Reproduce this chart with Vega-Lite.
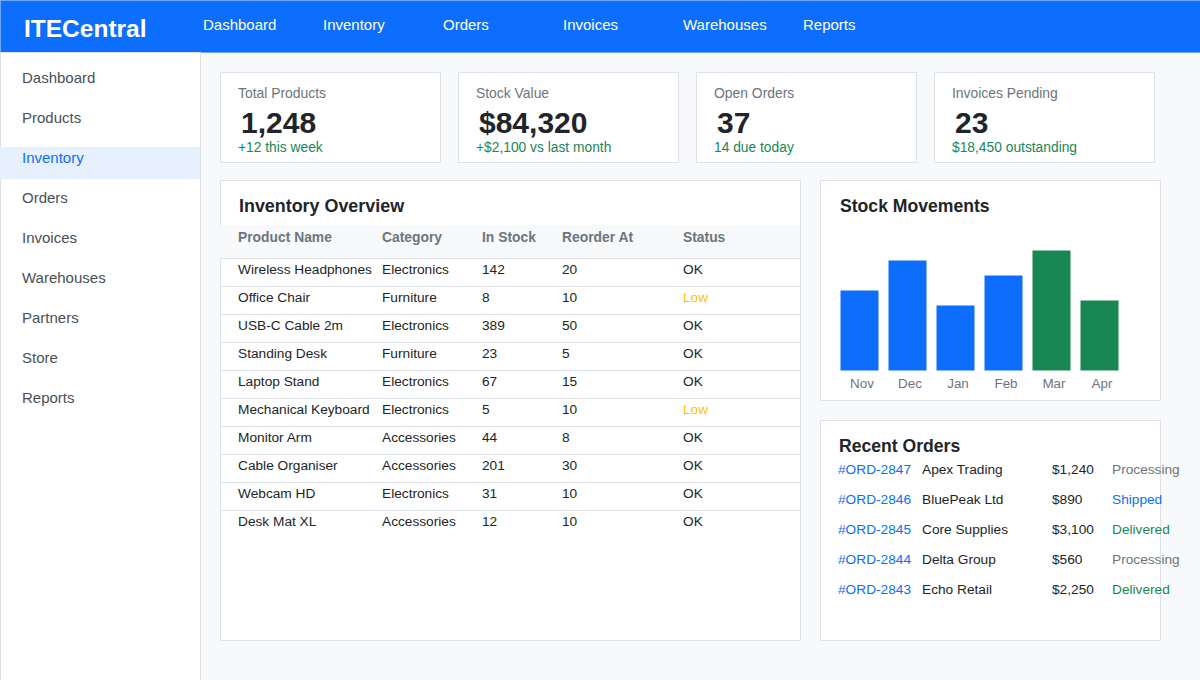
{
  "$schema": "https://vega.github.io/schema/vega-lite/v6.json",
  "background": "#f8f9fa",
  "padding": {"left": -1, "top": -1, "right": 0, "bottom": 0},
  "bounds": "flush",
  "spacing": 0,
  "config": {
    "font": "Liberation Sans",
    "text": {"font": "Liberation Sans", "align": "left", "baseline": "middle"},
    "title": {"font": "Liberation Sans", "anchor": "start", "frame": "group", "fontWeight": "bold", "color": "#212529", "fontSize": 17.6, "baseline": "alphabetic"}
  },
  "datasets": {
    "nav": [
      {"pos": 0, "label": "Dashboard"},
      {"pos": 1, "label": "Inventory"},
      {"pos": 2, "label": "Orders"},
      {"pos": 3, "label": "Invoices"},
      {"pos": 4, "label": "Warehouses"},
      {"pos": 5, "label": "Reports"}
    ],
    "sidebar": [
      {"order": 0, "item": "Dashboard"},
      {"order": 1, "item": "Products"},
      {"order": 2, "item": "Inventory"},
      {"order": 3, "item": "Orders"},
      {"order": 4, "item": "Invoices"},
      {"order": 5, "item": "Warehouses"},
      {"order": 6, "item": "Partners"},
      {"order": 7, "item": "Store"},
      {"order": 8, "item": "Reports"}
    ],
    "totalProducts": [{"label": "Total Products", "value": "1,248", "note": "+12 this week"}],
    "stockValue": [{"label": "Stock Value", "value": "$84,320", "note": "+$2,100 vs last month"}],
    "openOrders": [{"label": "Open Orders", "value": "37", "note": "14 due today"}],
    "invoicesPending": [{"label": "Invoices Pending", "value": "23", "note": "$18,450 outstanding"}],
    "inventoryHeader": [
      {"row": 0, "product": "Product Name", "category": "Category", "stock": "In Stock", "reorder": "Reorder At", "status": "Status"}
    ],
    "inventory": [
      {"row": 1, "product": "Wireless Headphones", "category": "Electronics", "stock": 142, "reorder": 20, "status": "OK"},
      {"row": 2, "product": "Office Chair", "category": "Furniture", "stock": 8, "reorder": 10, "status": "Low"},
      {"row": 3, "product": "USB-C Cable 2m", "category": "Electronics", "stock": 389, "reorder": 50, "status": "OK"},
      {"row": 4, "product": "Standing Desk", "category": "Furniture", "stock": 23, "reorder": 5, "status": "OK"},
      {"row": 5, "product": "Laptop Stand", "category": "Electronics", "stock": 67, "reorder": 15, "status": "OK"},
      {"row": 6, "product": "Mechanical Keyboard", "category": "Electronics", "stock": 5, "reorder": 10, "status": "Low"},
      {"row": 7, "product": "Monitor Arm", "category": "Accessories", "stock": 44, "reorder": 8, "status": "OK"},
      {"row": 8, "product": "Cable Organiser", "category": "Accessories", "stock": 201, "reorder": 30, "status": "OK"},
      {"row": 9, "product": "Webcam HD", "category": "Electronics", "stock": 31, "reorder": 10, "status": "OK"},
      {"row": 10, "product": "Desk Mat XL", "category": "Accessories", "stock": 12, "reorder": 10, "status": "OK"}
    ],
    "movements": [
      {"month": "Nov", "units": 80},
      {"month": "Dec", "units": 110},
      {"month": "Jan", "units": 65},
      {"month": "Feb", "units": 95},
      {"month": "Mar", "units": 120},
      {"month": "Apr", "units": 70}
    ],
    "orders": [
      {"row": 1, "id": "#ORD-2847", "customer": "Apex Trading", "amount": "$1,240", "status": "Processing"},
      {"row": 2, "id": "#ORD-2846", "customer": "BluePeak Ltd", "amount": "$890", "status": "Shipped"},
      {"row": 3, "id": "#ORD-2845", "customer": "Core Supplies", "amount": "$3,100", "status": "Delivered"},
      {"row": 4, "id": "#ORD-2844", "customer": "Delta Group", "amount": "$560", "status": "Processing"},
      {"row": 5, "id": "#ORD-2843", "customer": "Echo Retail", "amount": "$2,250", "status": "Delivered"}
    ]
  },
  "vconcat": [
    {
      "width": 1200,
      "height": 52,
      "view": {"fill": "#0d6efd", "stroke": "#6ea8fe"},
      "title": {"text": "ITECentral", "color": "#ffffff", "fontSize": 24.5, "dx": 24, "offset": -42},
      "data": {"name": "nav"},
      "mark": {"type": "text", "fontSize": 15, "color": "#ffffff", "dy": -1},
      "encoding": {
        "x": {"field": "pos", "type": "quantitative", "axis": null,
          "scale": {"domain": [0, 4, 5], "range": [203, 683, 803], "zero": false, "nice": false}},
        "text": {"field": "label"}
      }
    },
    {
      "hconcat": [
        {
          "width": 200,
          "height": 628,
          "view": {"fill": "#ffffff", "stroke": "#dee2e6"},
          "data": {"name": "sidebar"},
          "encoding": {
            "y": {"field": "order", "type": "quantitative", "axis": null,
              "scale": {"domain": [0, 8], "range": [26, 346], "zero": false, "nice": false}}
          },
          "layer": [
            {
              "transform": [{"filter": "datum.item === 'Inventory'"}],
              "mark": {"type": "rect", "height": 32, "yOffset": 5, "color": "#e7f0ff"}
            },
            {
              "mark": {"type": "text", "fontSize": 15},
              "encoding": {
                "x": {"datum": 0, "type": "quantitative", "axis": null,
                  "scale": {"domain": [0, 1], "range": [22, 200], "zero": false, "nice": false}},
                "text": {"field": "item"},
                "color": {"condition": {"test": "datum.item === 'Inventory'", "value": "#0d6efd"}, "value": "#495057"}
              }
            }
          ]
        },
        {
          "vconcat": [
            {
              "width": 1,
              "height": 3,
              "view": {"stroke": null},
              "data": {"values": []},
              "mark": "text"
            },
            {
              "hconcat": [
                {
                  "width": 220, "height": 90,
                  "view": {"fill": "#ffffff", "stroke": "#dee2e6"},
                  "data": {"name": "totalProducts"},
                  "layer": [
                    {"mark": {"type": "text", "fontSize": 13.9, "color": "#6c757d"},
                      "encoding": {
                        "x": {"datum": 0, "type": "quantitative", "axis": null, "scale": {"domain": [0, 1], "range": [18, 21], "zero": false, "nice": false}},
                        "y": {"datum": 0, "type": "quantitative", "axis": null, "scale": {"domain": [0, 1, 2], "range": [22, 52, 76], "zero": false, "nice": false}},
                        "text": {"field": "label"}}},
                    {"mark": {"type": "text", "fontSize": 30, "fontWeight": "bold", "color": "#212529"},
                      "encoding": {"x": {"datum": 1, "type": "quantitative"}, "y": {"datum": 1, "type": "quantitative"}, "text": {"field": "value"}}},
                    {"mark": {"type": "text", "fontSize": 13.8, "color": "#198754"},
                      "encoding": {"x": {"datum": 0, "type": "quantitative"}, "y": {"datum": 2, "type": "quantitative"}, "text": {"field": "note"}}}
                  ]
                },
                {
                  "width": 220, "height": 90,
                  "view": {"fill": "#ffffff", "stroke": "#dee2e6"},
                  "data": {"name": "stockValue"},
                  "layer": [
                    {"mark": {"type": "text", "fontSize": 13.9, "color": "#6c757d"},
                      "encoding": {
                        "x": {"datum": 0, "type": "quantitative", "axis": null, "scale": {"domain": [0, 1], "range": [18, 21], "zero": false, "nice": false}},
                        "y": {"datum": 0, "type": "quantitative", "axis": null, "scale": {"domain": [0, 1, 2], "range": [22, 52, 76], "zero": false, "nice": false}},
                        "text": {"field": "label"}}},
                    {"mark": {"type": "text", "fontSize": 30, "fontWeight": "bold", "color": "#212529"},
                      "encoding": {"x": {"datum": 1, "type": "quantitative"}, "y": {"datum": 1, "type": "quantitative"}, "text": {"field": "value"}}},
                    {"mark": {"type": "text", "fontSize": 13.8, "color": "#198754"},
                      "encoding": {"x": {"datum": 0, "type": "quantitative"}, "y": {"datum": 2, "type": "quantitative"}, "text": {"field": "note"}}}
                  ]
                },
                {
                  "width": 220, "height": 90,
                  "view": {"fill": "#ffffff", "stroke": "#dee2e6"},
                  "data": {"name": "openOrders"},
                  "layer": [
                    {"mark": {"type": "text", "fontSize": 13.9, "color": "#6c757d"},
                      "encoding": {
                        "x": {"datum": 0, "type": "quantitative", "axis": null, "scale": {"domain": [0, 1], "range": [18, 21], "zero": false, "nice": false}},
                        "y": {"datum": 0, "type": "quantitative", "axis": null, "scale": {"domain": [0, 1, 2], "range": [22, 52, 76], "zero": false, "nice": false}},
                        "text": {"field": "label"}}},
                    {"mark": {"type": "text", "fontSize": 30, "fontWeight": "bold", "color": "#212529"},
                      "encoding": {"x": {"datum": 1, "type": "quantitative"}, "y": {"datum": 1, "type": "quantitative"}, "text": {"field": "value"}}},
                    {"mark": {"type": "text", "fontSize": 13.8, "color": "#198754"},
                      "encoding": {"x": {"datum": 0, "type": "quantitative"}, "y": {"datum": 2, "type": "quantitative"}, "text": {"field": "note"}}}
                  ]
                },
                {
                  "width": 220, "height": 90,
                  "view": {"fill": "#ffffff", "stroke": "#dee2e6"},
                  "data": {"name": "invoicesPending"},
                  "layer": [
                    {"mark": {"type": "text", "fontSize": 13.9, "color": "#6c757d"},
                      "encoding": {
                        "x": {"datum": 0, "type": "quantitative", "axis": null, "scale": {"domain": [0, 1], "range": [18, 21], "zero": false, "nice": false}},
                        "y": {"datum": 0, "type": "quantitative", "axis": null, "scale": {"domain": [0, 1, 2], "range": [22, 52, 76], "zero": false, "nice": false}},
                        "text": {"field": "label"}}},
                    {"mark": {"type": "text", "fontSize": 30, "fontWeight": "bold", "color": "#212529"},
                      "encoding": {"x": {"datum": 1, "type": "quantitative"}, "y": {"datum": 1, "type": "quantitative"}, "text": {"field": "value"}}},
                    {"mark": {"type": "text", "fontSize": 13.8, "color": "#198754"},
                      "encoding": {"x": {"datum": 0, "type": "quantitative"}, "y": {"datum": 2, "type": "quantitative"}, "text": {"field": "note"}}}
                  ]
                }
              ],
              "spacing": 18,
              "bounds": "flush"
            },
            {
              "hconcat": [
                {
                  "width": 580,
                  "height": 460,
                  "view": {"fill": "#ffffff", "stroke": "#dee2e6"},
                  "title": {"text": "Inventory Overview", "fontSize": 17.9, "dx": 19, "offset": -36},
                  "encoding": {
                    "y": {"field": "row", "type": "quantitative", "axis": null,
                      "scale": {"domain": [0, 1, 10], "range": [58, 89.5, 341.5], "zero": false, "nice": false}}
                  },
                  "layer": [
                    {
                      "data": {"name": "inventoryHeader"},
                      "mark": {"type": "rect", "height": 33, "yOffset": 3.5, "color": "#f8f9fa"}
                    },
                    {
                      "data": {"name": "inventory"},
                      "mark": {"type": "rule", "color": "#dee2e6", "yOffset": -11}
                    },
                    {
                      "data": {"name": "inventoryHeader"},
                      "mark": {"type": "text", "fontSize": 13.85, "fontWeight": "bold", "color": "#6c757d"},
                      "encoding": {
                        "x": {"datum": 0, "type": "quantitative", "axis": null,
                          "scale": {"domain": [0, 1, 2, 3, 4], "range": [18, 162, 262, 342, 463], "zero": false, "nice": false}},
                        "text": {"field": "product"}
                      }
                    },
                    {
                      "data": {"name": "inventoryHeader"},
                      "mark": {"type": "text", "fontSize": 13.85, "fontWeight": "bold", "color": "#6c757d"},
                      "encoding": {"x": {"datum": 1, "type": "quantitative"}, "text": {"field": "category"}}
                    },
                    {
                      "data": {"name": "inventoryHeader"},
                      "mark": {"type": "text", "fontSize": 13.85, "fontWeight": "bold", "color": "#6c757d"},
                      "encoding": {"x": {"datum": 2, "type": "quantitative"}, "text": {"field": "stock"}}
                    },
                    {
                      "data": {"name": "inventoryHeader"},
                      "mark": {"type": "text", "fontSize": 13.85, "fontWeight": "bold", "color": "#6c757d"},
                      "encoding": {"x": {"datum": 3, "type": "quantitative"}, "text": {"field": "reorder"}}
                    },
                    {
                      "data": {"name": "inventoryHeader"},
                      "mark": {"type": "text", "fontSize": 13.85, "fontWeight": "bold", "color": "#6c757d"},
                      "encoding": {"x": {"datum": 4, "type": "quantitative"}, "text": {"field": "status"}}
                    },
                    {
                      "data": {"name": "inventory"},
                      "mark": {"type": "text", "fontSize": 13.7, "color": "#212529"},
                      "encoding": {"x": {"datum": 0, "type": "quantitative"}, "text": {"field": "product"}}
                    },
                    {
                      "data": {"name": "inventory"},
                      "mark": {"type": "text", "fontSize": 13.7, "color": "#212529"},
                      "encoding": {"x": {"datum": 1, "type": "quantitative"}, "text": {"field": "category"}}
                    },
                    {
                      "data": {"name": "inventory"},
                      "mark": {"type": "text", "fontSize": 13.7, "color": "#212529"},
                      "encoding": {"x": {"datum": 2, "type": "quantitative"}, "text": {"field": "stock"}}
                    },
                    {
                      "data": {"name": "inventory"},
                      "mark": {"type": "text", "fontSize": 13.7, "color": "#212529"},
                      "encoding": {"x": {"datum": 3, "type": "quantitative"}, "text": {"field": "reorder"}}
                    },
                    {
                      "data": {"name": "inventory"},
                      "mark": {"type": "text", "fontSize": 13.7},
                      "encoding": {
                        "x": {"datum": 4, "type": "quantitative"},
                        "text": {"field": "status"},
                        "color": {"condition": {"test": "datum.status === 'Low'", "value": "#ffc107"}, "value": "#212529"}
                      }
                    }
                  ]
                },
                {
                  "vconcat": [
                    {
                      "width": 340,
                      "height": 220,
                      "view": {"fill": "#ffffff", "stroke": "#dee2e6"},
                      "title": {"text": "Stock Movements", "dx": 20, "offset": -36},
                      "data": {"name": "movements"},
                      "mark": "bar",
                      "encoding": {
                        "x": {"field": "month", "type": "nominal", "sort": null, "title": null,
                          "scale": {"domain": ["Nov", "Dec", "Jan", "Feb", "Mar", "Apr"], "range": [20.5, 298.5], "paddingInner": 0.2083, "paddingOuter": 0},
                          "axis": {"orient": "bottom", "offset": -30, "domain": false, "ticks": false, "labelAngle": 0, "labelPadding": 6, "labelOffset": 2.5, "labelFontSize": 13.4, "labelColor": "#6c757d", "labelFont": "Liberation Sans"}},
                        "y": {"field": "units", "type": "quantitative", "axis": null,
                          "scale": {"domain": [0, 120], "range": [190.5, 70.5], "nice": false}},
                        "color": {"condition": {"test": "datum.month === 'Mar' || datum.month === 'Apr'", "value": "#198754"}, "value": "#0d6efd"}
                      }
                    },
                    {
                      "width": 340,
                      "height": 220,
                      "view": {"fill": "#ffffff", "stroke": "#dee2e6"},
                      "title": {"text": "Recent Orders", "dx": 19, "offset": -36},
                      "data": {"name": "orders"},
                      "encoding": {
                        "y": {"field": "row", "type": "quantitative", "axis": null,
                          "scale": {"domain": [1, 5], "range": [49.5, 169.5], "zero": false, "nice": false}}
                      },
                      "layer": [
                        {
                          "mark": {"type": "text", "fontSize": 13.7, "color": "#0d6efd"},
                          "encoding": {
                            "x": {"datum": 0, "type": "quantitative", "axis": null,
                              "scale": {"domain": [0, 1, 2, 3], "range": [18, 102, 232, 292], "zero": false, "nice": false}},
                            "text": {"field": "id"}
                          }
                        },
                        {
                          "mark": {"type": "text", "fontSize": 13.7, "color": "#212529"},
                          "encoding": {"x": {"datum": 1, "type": "quantitative"}, "text": {"field": "customer"}}
                        },
                        {
                          "mark": {"type": "text", "fontSize": 13.7, "color": "#212529"},
                          "encoding": {"x": {"datum": 2, "type": "quantitative"}, "text": {"field": "amount"}}
                        },
                        {
                          "mark": {"type": "text", "fontSize": 13.7},
                          "encoding": {
                            "x": {"datum": 3, "type": "quantitative"},
                            "text": {"field": "status"},
                            "color": {"field": "status", "type": "nominal", "legend": null,
                              "scale": {"domain": ["Processing", "Shipped", "Delivered"], "range": ["#6c757d", "#0d6efd", "#198754"]}}
                          }
                        }
                      ]
                    }
                  ],
                  "spacing": 20,
                  "bounds": "flush"
                }
              ],
              "spacing": 20,
              "bounds": "flush"
            }
          ],
          "spacing": 16,
          "bounds": "full"
        }
      ],
      "spacing": 20,
      "bounds": "flush"
    }
  ]
}
